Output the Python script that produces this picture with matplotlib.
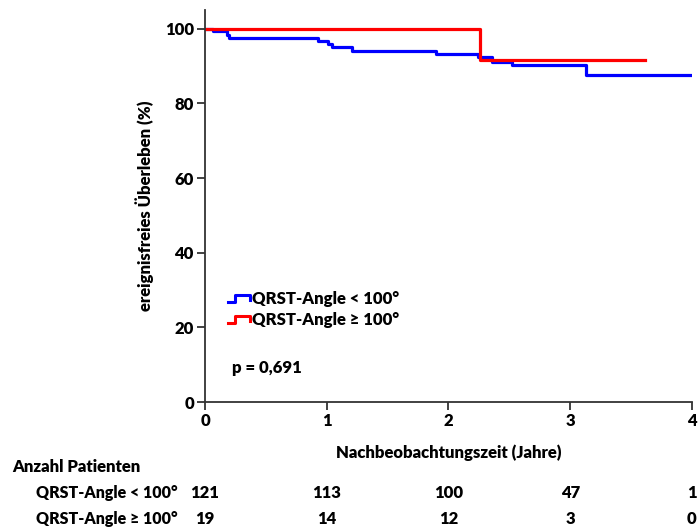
import matplotlib
matplotlib.use("Agg")
import matplotlib.pyplot as plt
from matplotlib.lines import Line2D
from matplotlib.legend_handler import HandlerBase
from matplotlib import transforms

plt.rcParams['font.family'] = ['Lato', 'DejaVu Sans']
plt.rcParams['font.weight'] = 800
FS = 12
W = 800

# Kaplan-Meier steps (time in years, survival in %)
low_t = [0, 0.064, 0.178, 0.20, 0.93, 1.01, 1.046, 1.21, 1.90, 2.245, 2.36, 2.52, 3.13, 4.0]
low_s = [100, 99.3, 98.4, 97.5, 96.6, 95.9, 95.0, 94.0, 93.3, 92.3, 91.2, 90.2, 87.5, 87.5]
high_t = [0, 2.26, 3.61]
high_s = [100, 91.7, 91.7]

groups = ["QRST-Angle < 100°", "QRST-Angle ≥ 100°"]
colors = ["#0000ff", "#ff0000"]

risk_times = [0, 1, 2, 3, 4]
risk_low = [121, 113, 100, 47, 1]
risk_high = [19, 14, 12, 3, 0]


class StepHandler(HandlerBase):
    # legend key drawn as a small step
    def create_artists(self, legend, orig_handle, xd, yd, w, h, fontsize, trans):
        xs = [xd, xd + 0.35 * w, xd + 0.35 * w, xd + w, xd + w]
        ys = [yd + 0.1 * h, yd + 0.1 * h, yd + 0.7 * h, yd + 0.7 * h, yd + 0.3 * h]
        ln = Line2D(xs, ys, color=orig_handle.get_color(), lw=2.2)
        ln.set_transform(trans)
        return [ln]


fig = plt.figure(figsize=(6.98, 5.30), dpi=100)
ax = fig.add_axes([0.2937, 0.2415, 0.6977, 0.7395])

l1, = ax.step(low_t, low_s, where='post', color=colors[0], lw=2.3)
l2, = ax.step(high_t, high_s, where='post', color=colors[1], lw=2.3)

ax.set_xlim(0, 4)
ax.set_ylim(0, 105)
ax.set_xticks([0, 1, 2, 3, 4])
ax.set_yticks([0, 20, 40, 60, 80, 100])
for s in ['top', 'right']:
    ax.spines[s].set_visible(False)
for s in ['left', 'bottom']:
    ax.spines[s].set_linewidth(1.3)
    ax.spines[s].set_color('#333333')
ax.tick_params(direction='out', length=6, width=1.3, labelsize=FS, color='#333333', pad=2)
for lab in ax.get_xticklabels() + ax.get_yticklabels():
    lab.set_fontweight(W)

ax.set_ylabel("ereignisfreies Überleben (%)", fontsize=FS, fontweight=W, labelpad=8)
ax.set_xlabel("Nachbeobachtungszeit (Jahre)", fontsize=FS, fontweight=W, labelpad=11)

ax.legend([l1, l2], groups, handler_map={Line2D: StepHandler()},
          loc='center left', bbox_to_anchor=(0.047, 0.237), frameon=False,
          handlelength=1.3, handletextpad=0.15, labelspacing=0.3, borderpad=0,
          prop={'size': FS, 'weight': W}, borderaxespad=0)

ax.text(0.0554, 0.0867, "p = 0,691", transform=ax.transAxes, fontsize=FS,
        fontweight=W, va='center')

# number-at-risk table below the axis
tr = transforms.blended_transform_factory(ax.transData, fig.transFigure)
fig.text(12 / 698, 1 - 467 / 530, "Anzahl Patienten", fontsize=FS, fontweight=W, va='center')
row_y = [1 - 493 / 530, 1 - 519 / 530]
for name, y, counts in zip(groups, row_y, [risk_low, risk_high]):
    fig.text(36 / 698, y, name, fontsize=11.5, fontweight=W, va='center')
    for t, n in zip(risk_times, counts):
        ax.text(t, y, str(n), transform=tr, ha='center', va='center',
                fontsize=FS, fontweight=W, clip_on=False)

fig.savefig("out.png", dpi=100)
